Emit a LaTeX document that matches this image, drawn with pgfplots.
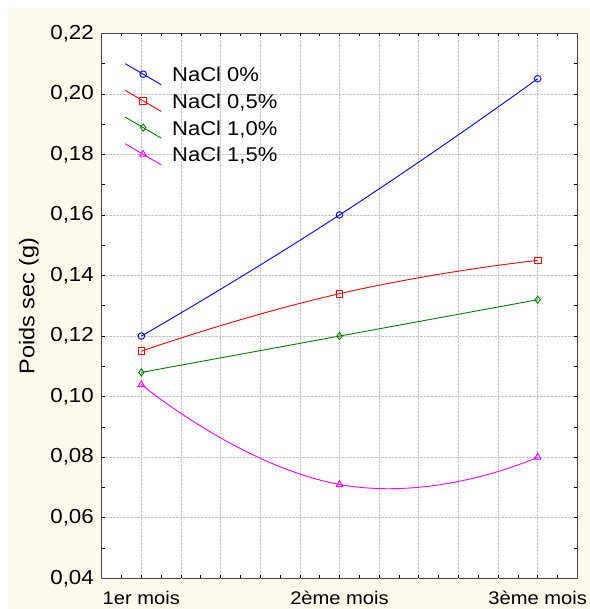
\documentclass[border=0pt]{standalone}
\usepackage{pgfplots}
\pgfplotsset{compat=1.18}
\usepackage{fontspec}
\setmainfont{Liberation Sans}
\newfontfamily\widesans[FakeStretch=1.1]{Liberation Sans}

\definecolor{cream}{RGB}{253,249,237}
\definecolor{gridgray}{RGB}{195,195,195}
\definecolor{framegray}{RGB}{70,70,70}
\definecolor{nblue}{RGB}{0,0,255}
\definecolor{nred}{RGB}{255,0,0}
\definecolor{ngreen}{RGB}{0,128,0}
\definecolor{nmagenta}{RGB}{255,0,255}
\newcommand{\ytickfont}{\widesans\fontsize{20.3bp}{24bp}\selectfont}
\newcommand{\xtickfont}{\widesans\fontsize{18.3bp}{22bp}\selectfont}
\newcommand{\labelfont}{\widesans\fontsize{21.3bp}{25bp}\selectfont}
\newcommand{\legendfont}{\widesans\fontsize{20bp}{24bp}\selectfont}

% mean dry weight per month and salt level
\pgfplotstableread{
m  w0     w05    w10    w15
0  0.120  0.115  0.108  0.104
1  0.160  0.134  0.120  0.071
2  0.205  0.145  0.132  0.080
}\drydata

\begin{document}
\begin{tikzpicture}
\useasboundingbox (-101.7bp,-30.7bp) rectangle (488.3bp,578.3bp);
\fill[cream] (-93.7bp,-30.7bp) rectangle (488.3bp,570.3bp);
\begin{axis}[
  at={(0,0)}, anchor=south west,
  scale only axis, width=475.6bp, height=545bp,
  xmin=-0.2, xmax=2.2, ymin=0.04, ymax=0.22,
  axis background/.style={fill=white},
  axis line style={framegray, line width=1.5bp},
  tick pos=both, tick align=inside,
  major tick length=3.2bp, minor tick length=3.2bp,
  every tick/.style={black, line width=0.7bp},
  xtick={0,1,2},
  xticklabels={1er mois,2ème mois,3ème mois},
  extra x ticks={0.2,0.4,0.6,0.8,1.2,1.4,1.6,1.8},
  extra x tick labels={},
  extra x tick style={grid=major},
  minor xtick={-0.1,0.1,0.3,0.5,0.7,0.9,1.1,1.3,1.5,1.7,1.9,2.1},
  ytick={0.04,0.06,...,0.221},
  minor y tick num=1,
  xmajorgrids, ymajorgrids,
  major grid style={densely dotted, gridgray, line width=0.7bp},
  yticklabel style={font=\ytickfont, anchor=east, inner sep=0pt, xshift=-7.7bp,
    /pgf/number format/fixed, /pgf/number format/fixed zerofill,
    /pgf/number format/precision=2, /pgf/number format/use comma,
    /pgf/number format/assume math mode=true},
  xticklabel style={font=\xtickfont, anchor=base, inner sep=0pt, yshift=-25.7bp},
  ylabel={Poids sec (g)},
  ylabel style={font=\labelfont, at={([xshift=-67.4bp]axis description cs:0,0.5)},
    anchor=base, inner sep=0pt},
  legend cell align=left,
  legend image code/.code={%
    \draw[overlay, mark repeat=2, mark phase=2, #1]
      plot coordinates {(0bp,10.5bp) (18bp,0bp) (36bp,-10.5bp)};
    \path[draw=none, fill=none] (0bp,-4bp) rectangle (36bp,4bp);
  },
  legend style={draw=none, fill=none, inner sep=0pt,
    at={([xshift=23.3bp, yshift=-30bp]axis description cs:0,1)},
    anchor=north west, font=\legendfont,
    nodes={inner sep=0pt, text height=18.4bp, text depth=3bp},
    row sep=5.3bp,
    /tikz/every odd column/.style={column sep=11bp}},
  every axis plot/.append style={line width=0.9bp, smooth, tension=0.9},
  mark options={solid, line width=0.9bp},
]
\addplot[nblue, mark=o, mark size=3.3bp] table[x=m, y=w0] {\drydata};
\addlegendentry{NaCl 0\%}
\addplot[nred, mark=square, mark size=3.3bp] table[x=m, y=w05] {\drydata};
\addlegendentry{NaCl 0,5\%}
\addplot[ngreen, mark=diamond, mark size=3.6bp] table[x=m, y=w10] {\drydata};
\addlegendentry{NaCl 1,0\%}
\addplot[nmagenta, mark=triangle, mark size=3.8bp] table[x=m, y=w15] {\drydata};
\addlegendentry{NaCl 1,5\%}
\end{axis}
\end{tikzpicture}
\end{document}
